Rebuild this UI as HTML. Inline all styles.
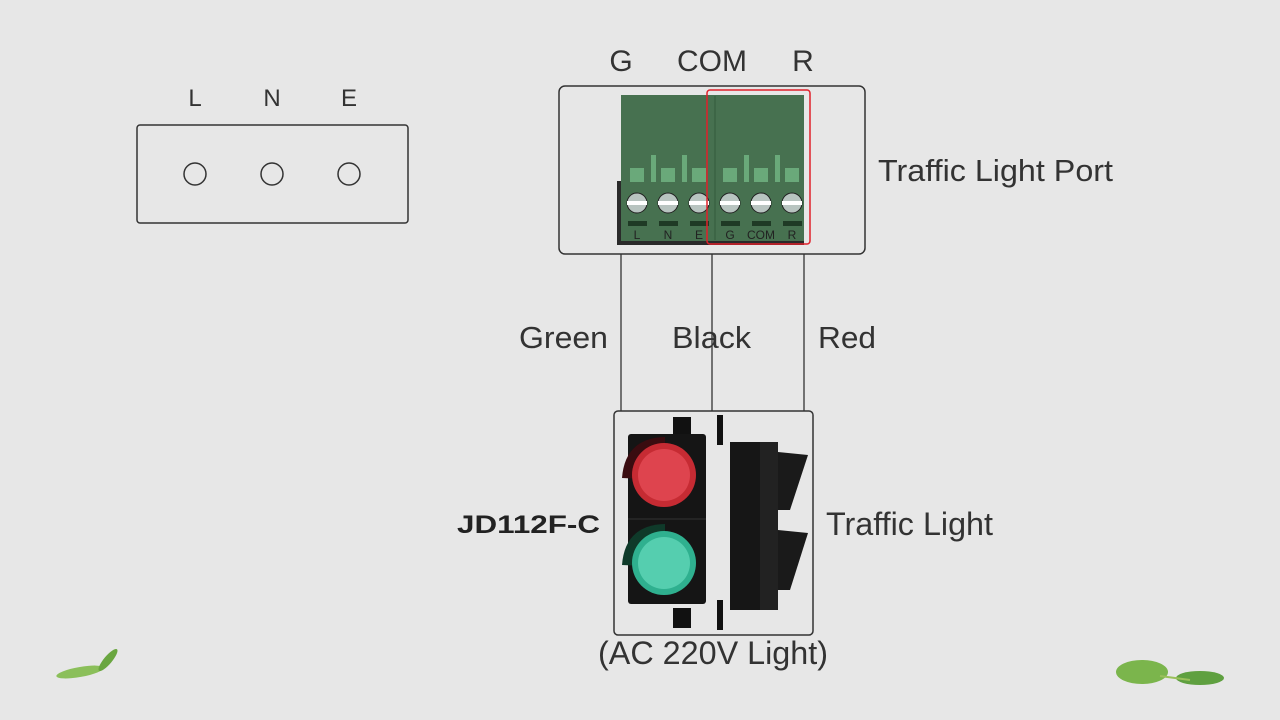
<!DOCTYPE html>
<html><head><meta charset="utf-8"><style>
html,body{margin:0;padding:0;background:#e7e7e7;}
svg{display:block;font-family:"Liberation Sans",sans-serif;}
</style></head><body>
<svg width="1280" height="720" viewBox="0 0 1280 720">
<rect width="1280" height="720" fill="#e7e7e7"/>
<rect x="137" y="125" width="271" height="98" rx="3" fill="none" stroke="#333" stroke-width="1.5"/>
<g font-size="24" fill="#333" text-anchor="middle">
<text x="195" y="106">L</text><text x="272" y="106">N</text><text x="349" y="106">E</text>
</g>
<g fill="none" stroke="#333" stroke-width="1.5">
<circle cx="195" cy="174" r="11"/><circle cx="272" cy="174" r="11"/><circle cx="349" cy="174" r="11"/>
</g>
<g font-size="30" fill="#333" text-anchor="middle">
<text x="621" y="71">G</text><text x="712" y="71">COM</text><text x="803" y="71">R</text>
</g>
<rect x="559" y="86" width="306" height="168" rx="6" fill="none" stroke="#333" stroke-width="1.5"/>
<rect x="617" y="181" width="4" height="64" fill="#2a2a2a"/>
<rect x="617" y="241" width="187" height="4" fill="#2a2a2a"/>
<rect x="621" y="95" width="183" height="146" fill="#477150"/>
<line x1="715" y1="96" x2="715" y2="240" stroke="#335a3c" stroke-width="1"/>
<g fill="#6aa97a">
<rect x="630" y="168" width="14" height="14"/><rect x="651" y="155" width="5" height="27"/>
<rect x="661" y="168" width="14" height="14"/><rect x="682" y="155" width="5" height="27"/>
<rect x="692" y="168" width="14" height="14"/>
<rect x="723" y="168" width="14" height="14"/><rect x="744" y="155" width="5" height="27"/>
<rect x="754" y="168" width="14" height="14"/><rect x="775" y="155" width="5" height="27"/>
<rect x="785" y="168" width="14" height="14"/>
</g>
<g>
<g id="s"><circle cx="637" cy="203" r="10" fill="#b8c4c0" stroke="#222" stroke-width="1"/><rect x="627" y="201" width="20" height="4" fill="#fff"/><rect x="628" y="221" width="19" height="5" fill="#1f3a25"/></g>
<use href="#s" x="31"/><use href="#s" x="62"/><use href="#s" x="93"/><use href="#s" x="124"/><use href="#s" x="155"/>
</g>
<g font-size="12" fill="#222" text-anchor="middle">
<text x="637" y="239">L</text><text x="668" y="239">N</text><text x="699" y="239">E</text>
<text x="730" y="239">G</text><text x="761" y="239">COM</text><text x="792" y="239">R</text>
</g>
<rect x="707" y="90" width="103" height="154" rx="3" fill="none" stroke="#e0202a" stroke-width="1.5"/>
<text x="878" y="181" font-size="31" fill="#333" textLength="235" lengthAdjust="spacingAndGlyphs">Traffic Light Port</text>
<g stroke="#333" stroke-width="1.3">
<line x1="621" y1="254" x2="621" y2="411"/><line x1="712" y1="254" x2="712" y2="411"/><line x1="804" y1="254" x2="804" y2="411"/>
</g>
<g font-size="31" fill="#333">
<text x="519" y="348" textLength="89" lengthAdjust="spacingAndGlyphs">Green</text>
<text x="672" y="348" textLength="79" lengthAdjust="spacingAndGlyphs">Black</text>
<text x="818" y="348" textLength="58" lengthAdjust="spacingAndGlyphs">Red</text>
</g>
<rect x="614" y="411" width="199" height="224" rx="4" fill="none" stroke="#333" stroke-width="1.5"/>
<rect x="673" y="417" width="18" height="20" fill="#111"/>
<rect x="673" y="608" width="18" height="20" fill="#111"/>
<rect x="628" y="434" width="78" height="170" rx="3" fill="#151515"/>
<path d="M622 478 Q625 438 665 437 L665 480 Z" fill="#3a0c10"/>
<circle cx="664" cy="475" r="32" fill="#c62b33"/>
<circle cx="664" cy="475" r="26" fill="#e8505a" opacity="0.7"/>
<path d="M622 565 Q625 525 665 524 L665 567 Z" fill="#0f3a2a"/>
<circle cx="664" cy="563" r="32" fill="#2fb08f"/>
<circle cx="664" cy="563" r="26" fill="#6fe3c4" opacity="0.6"/>
<line x1="628" y1="519" x2="706" y2="519" stroke="#333"/>
<rect x="717" y="415" width="6" height="30" fill="#111"/>
<rect x="717" y="600" width="6" height="30" fill="#111"/>
<rect x="730" y="442" width="36" height="168" fill="#161616"/>
<rect x="760" y="442" width="18" height="168" fill="#222"/>
<path d="M778 452 L808 455 L790 510 L778 510 Z" fill="#1a1a1a"/>
<path d="M778 530 L808 533 L790 590 L778 590 Z" fill="#1a1a1a"/>
<text x="457" y="533" font-size="25" font-weight="bold" fill="#222" textLength="143" lengthAdjust="spacingAndGlyphs">JD112F-C</text>
<text x="826" y="535" font-size="32" fill="#333" textLength="167" lengthAdjust="spacingAndGlyphs">Traffic Light</text>
<text x="598" y="664" font-size="32" fill="#333" textLength="230" lengthAdjust="spacingAndGlyphs">(AC 220V Light)</text>
<ellipse cx="80" cy="672" rx="24" ry="5" fill="#8bbf5a" transform="rotate(-10 80 672)"/>
<ellipse cx="108" cy="660" rx="14" ry="4" fill="#6aa640" transform="rotate(-50 108 660)"/>
<ellipse cx="1142" cy="672" rx="26" ry="12" fill="#7bb54c"/>
<ellipse cx="1200" cy="678" rx="24" ry="7" fill="#5fa040"/>
<line x1="1160" y1="676" x2="1190" y2="680" stroke="#9ac05a" stroke-width="2"/>
</svg>
</body></html>
